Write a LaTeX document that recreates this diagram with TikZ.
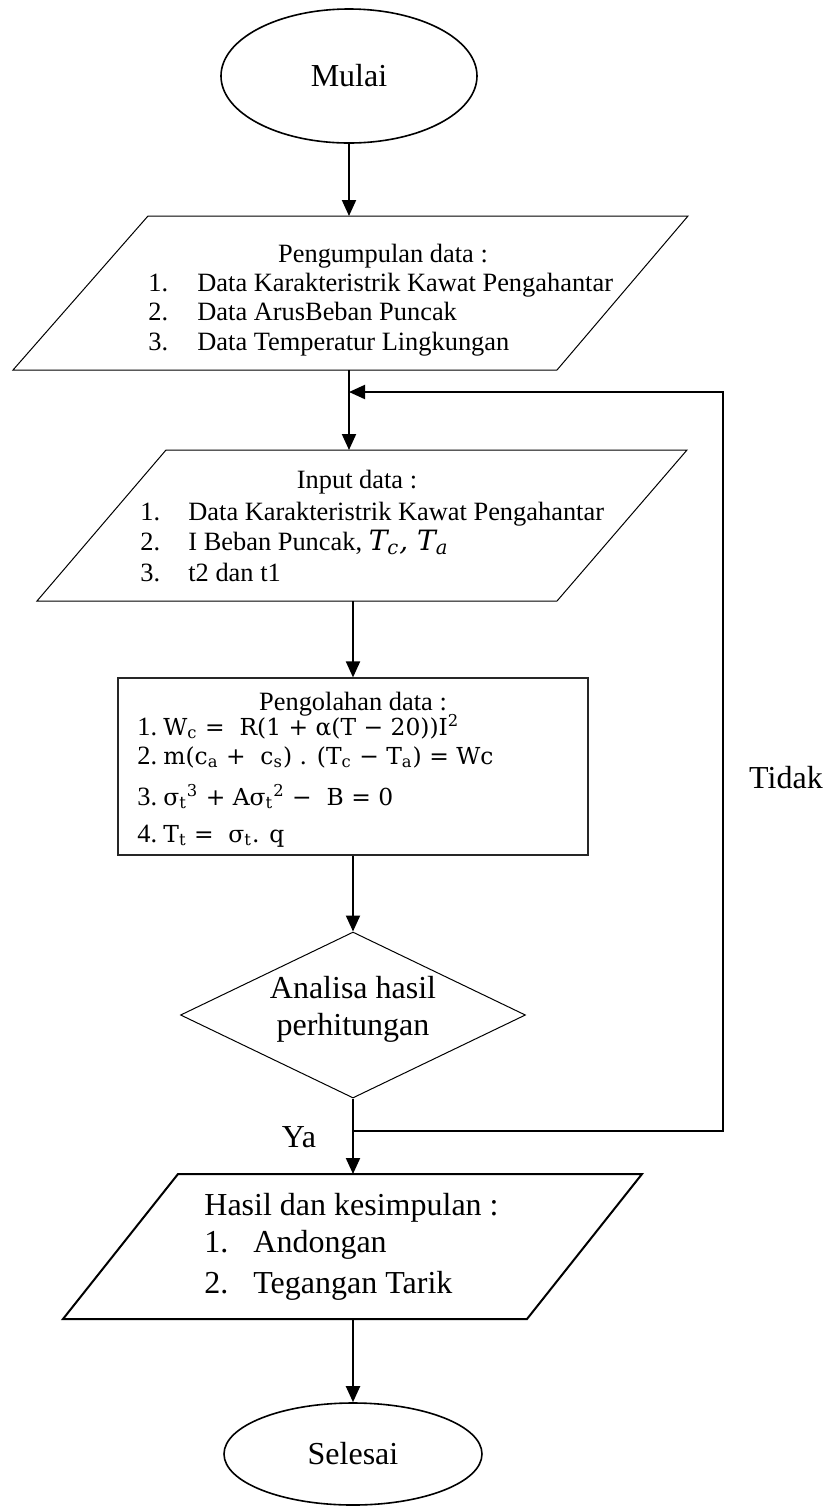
\documentclass[tikz,border=0pt]{standalone}
\usepackage{fontspec}
\setmainfont{Liberation Serif}
\newfontfamily\fml{DejaVu Serif}
\usetikzlibrary{shapes.geometric,arrows.meta}
\newcommand{\sbs}[1]{\textsubscript{#1}}
\newcommand{\sps}[1]{\textsuperscript{#1}}
\begin{document}
\begin{tikzpicture}[x=0.5pt,y=-0.5pt,
  conn/.style={line width=1pt,-{Triangle[length=8pt,width=7pt]}},
  thinline/.style={line width=0.5pt},
  small/.style={font=\fontsize{13.2pt}{15pt}\selectfont, inner sep=0pt, anchor=base west},
  smallc/.style={small, anchor=base},
  big/.style={font=\fontsize{16pt}{19pt}\selectfont, inner sep=0pt, anchor=base west},
  bigc/.style={big, anchor=base},
  fm/.style={font=\fml\fontsize{11.7pt}{14pt}\selectfont, inner sep=0pt, anchor=base west},
  term/.style={ellipse, draw, line width=0.8pt, inner sep=0pt, font=\fontsize{16pt}{19pt}\selectfont}
]
\useasboundingbox (0,0) rectangle (825,1506);

% terminals
\node[term, minimum width=128pt, minimum height=67pt] (mulai) at (349,76) {Mulai};
\node[term, minimum width=129pt, minimum height=51pt] (selesai) at (353,1454) {Selesai};

% parallelogram 1
\draw[thinline] (148,216) -- (688,216) -- (557,370) -- (13,370) -- cycle;
\coordinate (p1top) at (349,216);
\coordinate (p1bot) at (349,370);
\node[smallc] (t1h) at (383,262) {Pengumpulan data :};
\node[small] (t1n1) at (148,291) {1.};
\node[small] (t1l1) at (197,291) {Data Karakteristrik Kawat Pengahantar};
\node[small] (t1n2) at (148,320) {2.};
\node[small] (t1l2) at (197,320) {Data ArusBeban Puncak};
\node[small] (t1n3) at (148,350) {3.};
\node[small] (t1l3) at (197,350) {Data Temperatur Lingkungan};

% parallelogram 2
\draw[thinline] (166,450) -- (687,450) -- (557,601) -- (37,601) -- cycle;
\coordinate (p2top) at (349,450);
\coordinate (p2bot) at (353,601);
\node[smallc] (t2h) at (357,488) {Input data :};
\node[small] (t2n1) at (140,520) {1.};
\node[small] (t2l1) at (188,520) {Data Karakteristrik Kawat Pengahantar};
\node[small] (t2n2) at (140,550) {2.};
\node[small] (t2l2) at (188,550) {I Beban Puncak, {\fml\itshape\fontsize{14pt}{16pt}\selectfont T\sbs{c}, T\sbs{a}}};
\node[small] (t2n3) at (140,581) {3.};
\node[small] (t2l3) at (188,581) {t2 dan t1};

% process box
\node[draw, line width=0.6pt, draw=black!85, minimum width=235pt, minimum height=88.5pt, inner sep=0pt] (box) at (353,766.5) {};
\node[smallc] (t3h) at (353,710) {Pengolahan data :};
\node[small] (t3n1) at (137,735) {1.};
\node[fm] (t3l1) at (163,735) {W\sbs{c} =\ \ R(1 + α(T − 20))I\sps{2}};
\node[small] (t3n2) at (137,764) {2.};
\node[fm] (t3l2) at (163,764) {m(c\sbs{a} +\ \ c\sbs{s}) . (T\sbs{c} − T\sbs{a}) = Wc};
\node[small] (t3n3) at (137,805) {3.};
\node[fm] (t3l3) at (163,805) {σ\sbs{t}\sps{3} + Aσ\sbs{t}\sps{2} −\ \ B = 0};
\node[small] (t3n4) at (137,842) {4.};
\node[fm] (t3l4) at (163,842) {T\sbs{t} =\ \ σ\sbs{t}. q};

% decision
\node[diamond, draw, line width=0.5pt, minimum width=172.5pt, minimum height=83pt, inner sep=0pt] (dia) at (353,1015) {};
\node[bigc] (t4a) at (353,998) {Analisa hasil};
\node[bigc] (t4b) at (353,1035) {perhitungan};

% parallelogram 3
\draw[line width=1pt] (178,1174) -- (642,1174) -- (527,1319) -- (63,1319) -- cycle;
\coordinate (p3top) at (353,1174);
\coordinate (p3bot) at (353,1319);
\node[big] (t5h) at (204,1215) {Hasil dan kesimpulan :};
\node[big] (t5n1) at (204,1252) {1.};
\node[big] (t5l1) at (253,1252) {Andongan};
\node[big] (t5n2) at (204,1293) {2.};
\node[big] (t5l2) at (253,1293) {Tegangan Tarik};

% loop coordinates
\coordinate (jy) at (353,1131);
\coordinate (jt) at (349,392);
\coordinate (loopbr) at (723,1131);
\coordinate (looptr) at (723,392);

% labels
\node[bigc] (ya) at (299,1147) {Ya};
\node[bigc] (tidak) at (786,788) {Tidak};

% connectors
\draw[conn] (mulai.south) -- (p1top);
\draw[conn] (p1bot) -- (p2top);
\draw[conn] (p2bot) -- (box.north);
\draw[conn] (box.south) -- (dia.north);
\draw[conn] (dia.south) -- (p3top);
\draw[conn] (p3bot) -- (selesai.north);
\draw[conn] (jy) -- (loopbr) -- (looptr) -- (jt);
\end{tikzpicture}
\end{document}
